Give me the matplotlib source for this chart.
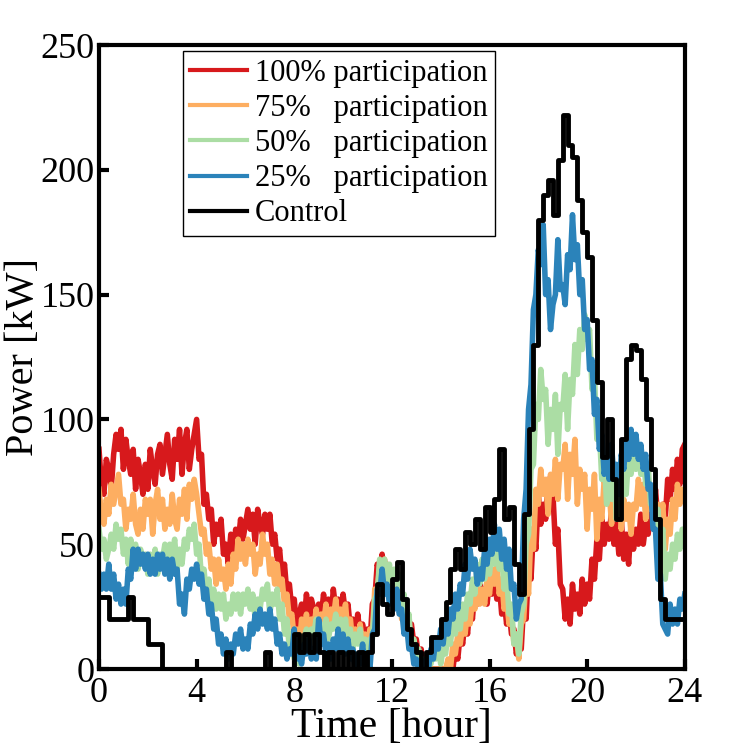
import matplotlib
matplotlib.use("Agg")
import matplotlib.pyplot as plt
import numpy as np

plt.rcParams['font.family'] = ['Liberation Serif', 'DejaVu Serif']

# power in kW, one row per hour, sampled every 0.1 hour (last value = hour 24)
p100 = [88, 74, 70, 84, 80, 72, 86, 94, 88, 96,
        80, 92, 84, 78, 88, 72, 84, 78, 70, 82,
        72, 88, 80, 74, 86, 90, 78, 86, 94, 82,
        76, 92, 84, 96, 78, 90, 96, 80, 88, 94,
        100, 84, 86, 66, 70, 60, 64, 50, 58, 54,
        60, 46, 50, 42, 54, 46, 56, 50, 60, 52,
        58, 64, 56, 62, 50, 64, 58, 54, 62, 56,
        62, 50, 54, 44, 48, 36, 42, 30, 34, 24,
        28, 16, 22, 26, 18, 30, 20, 28, 24, 18,
        26, 20, 30, 22, 28, 18, 32, 24, 28, 22,
        30, 22, 26, 16, 20, 12, 22, 14, 18, 12,
        16, 10, 26, 28, 42, 38, 46, 36, 42, 34,
        38, 30, 36, 26, 30, 20, 24, 14, 18, 10,
        12, 4, 8, 0, 2, 0, 0, 0, 0, 0,
        0, 0, 0, 0, 4, 0, 8, 4, 14, 10,
        20, 14, 26, 20, 32, 26, 36, 28, 32, 26,
        36, 30, 38, 28, 34, 22, 28, 18, 24, 14,
        16, 6, 10, 8, 26, 20, 42, 36, 56, 48,
        70, 58, 66, 60, 76, 64, 70, 50, 56, 34,
        32, 20, 28, 18, 34, 24, 30, 22, 36, 26,
        34, 28, 44, 36, 52, 44, 60, 50, 58, 52,
        64, 50, 58, 46, 60, 44, 54, 42, 58, 48,
        56, 50, 62, 50, 58, 54, 64, 58, 72, 60,
        52, 66, 60, 76, 68, 80, 72, 84, 74, 88,
        90]
p75 = [72, 62, 58, 68, 62, 74, 66, 72, 78, 66,
       68, 56, 64, 60, 70, 58, 54, 64, 56, 68,
       62, 68, 54, 66, 72, 60, 68, 56, 64, 58,
       70, 60, 56, 68, 62, 72, 60, 74, 68, 76,
       70, 62, 54, 56, 46, 50, 40, 44, 34, 44,
       36, 40, 32, 42, 34, 46, 40, 52, 44, 50,
       42, 52, 46, 50, 38, 46, 42, 54, 46, 50,
       38, 44, 34, 42, 32, 36, 26, 30, 20, 22,
       12, 16, 8, 20, 14, 22, 12, 20, 16, 24,
       14, 22, 18, 26, 16, 24, 20, 28, 18, 24,
       20, 26, 14, 20, 10, 16, 12, 18, 10, 14,
       8, 16, 14, 32, 30, 42, 38, 44, 34, 38,
       30, 36, 28, 34, 20, 26, 14, 18, 8, 10,
       4, 6, 0, 2, 0, 0, 0, 0, 0, 0,
       0, 0, 0, 4, 0, 10, 6, 14, 10, 18,
       14, 24, 18, 28, 24, 34, 26, 32, 26, 36,
       30, 40, 34, 42, 30, 36, 24, 28, 18, 22,
       10, 14, 4, 18, 20, 38, 30, 56, 48, 72,
       66, 80, 70, 76, 62, 78, 70, 84, 68, 82,
       80, 90, 68, 86, 78, 92, 66, 80, 72, 78,
       56, 72, 64, 78, 52, 68, 60, 76, 68, 72,
       58, 70, 62, 72, 56, 68, 60, 66, 54, 66,
       64, 76, 66, 74, 60, 72, 64, 70, 56, 66,
       58, 66, 48, 60, 54, 68, 60, 74, 66, 72,
       72]
p50 = [56, 48, 52, 44, 48, 54, 48, 58, 52, 56,
       46, 52, 42, 52, 46, 50, 40, 48, 44, 46,
       38, 46, 42, 48, 38, 46, 44, 50, 40, 50,
       46, 52, 40, 48, 42, 52, 48, 56, 52, 58,
       46, 50, 36, 40, 30, 36, 26, 32, 24, 30,
       24, 30, 20, 26, 22, 30, 24, 30, 22, 30,
       26, 32, 24, 30, 20, 28, 24, 32, 28, 34,
       22, 30, 26, 32, 20, 26, 14, 20, 8, 14,
       4, 8, 2, 10, 12, 16, 8, 16, 14, 20,
       10, 18, 14, 20, 12, 18, 16, 22, 14, 20,
       14, 20, 10, 16, 8, 14, 10, 16, 6, 12,
       4, 12, 12, 28, 30, 44, 38, 44, 36, 42,
       32, 40, 34, 38, 24, 30, 16, 22, 8, 12,
       4, 8, 0, 4, 0, 4, 2, 8, 4, 10,
       2, 8, 6, 14, 10, 20, 14, 22, 16, 26,
       20, 30, 26, 36, 30, 42, 34, 44, 36, 42,
       38, 48, 42, 52, 40, 46, 32, 38, 22, 26,
       10, 14, 6, 22, 26, 50, 54, 80, 82, 106,
       100, 120, 108, 112, 90, 104, 96, 110, 86, 106,
       104, 118, 96, 116, 110, 130, 118, 136, 128, 142,
       132, 136, 112, 118, 92, 96, 76, 84, 66, 78,
       68, 80, 60, 74, 66, 82, 70, 86, 78, 86,
       80, 90, 78, 86, 74, 82, 66, 72, 56, 64,
       50, 56, 36, 46, 40, 50, 44, 54, 48, 56,
       56]
p25 = [38, 32, 38, 32, 42, 32, 38, 28, 34, 26,
       32, 26, 40, 36, 48, 40, 48, 42, 46, 40,
       46, 38, 44, 38, 46, 40, 46, 38, 44, 36,
       44, 38, 40, 26, 30, 22, 36, 32, 40, 36,
       42, 34, 38, 28, 32, 22, 26, 16, 20, 10,
       14, 6, 12, 4, 10, 6, 14, 10, 16, 8,
       12, 8, 18, 14, 22, 16, 24, 18, 22, 16,
       24, 16, 20, 10, 14, 6, 10, 4, 8, 6,
       16, 4, 6, 2, 10, 6, 12, 4, 8, 4,
       20, 10, 14, 6, 10, 4, 12, 8, 16, 8,
       14, 6, 12, 4, 8, 0, 6, 2, 10, 0,
       4, 0, 14, 16, 32, 30, 40, 30, 34, 26,
       30, 24, 32, 22, 24, 14, 18, 8, 10, 2,
       4, 0, 0, 0, 4, 0, 8, 4, 12, 8,
       16, 10, 20, 14, 24, 20, 30, 24, 34, 30,
       42, 36, 48, 40, 44, 34, 40, 36, 48, 42,
       52, 46, 58, 48, 56, 44, 52, 40, 48, 32,
       34, 20, 26, 28, 60, 72, 104, 114, 144, 150,
       168, 162, 178, 150, 156, 136, 146, 150, 172, 152,
       154, 146, 166, 160, 182, 164, 170, 150, 156, 136,
       140, 120, 124, 102, 108, 88, 94, 78, 84, 76,
       90, 76, 82, 70, 86, 80, 92, 84, 96, 86,
       94, 84, 90, 80, 86, 72, 74, 56, 56, 36,
       38, 18, 16, 14, 26, 18, 24, 18, 28, 24,
       30]
# control: stepped, every 0.2 hour
control = [29, 29, 20, 20, 20, 20, 29, 20, 20, 20,
           10, 10, 10, 0, 0, 0, 0, 0, 0, 0,
           0, 0, 0, 0, 0, 0, 7, 0, 0, 0,
           0, 0, 0, 0, 7, 0, 0, 0, 0, 0,
           14, 7, 14, 7, 14, 7, 0, 7, 0, 7,
           0, 7, 0, 7, 0, 7, 14, 34, 26, 22,
           36, 43, 28, 16, 10, 7, 0, 7, 13, 13,
           20, 27, 40, 48, 40, 55, 50, 60, 48, 65,
           55, 68, 88, 60, 65, 42, 30, 62, 96, 130,
           180, 190, 196, 182, 204, 222, 210, 205, 188, 175,
           165, 140, 115, 85, 100, 76, 60, 92, 124, 130,
           128, 116, 100, 80, 60, 28, 20, 20, 20, 20,
           20]

labels = ['100% participation', '75%   participation', '50%   participation',
          '25%   participation', 'Control']
colors = ['#d7191c', '#fdae61', '#abdda4', '#2b83ba', 'black']

fig = plt.figure(figsize=(7.5, 7.5), dpi=100)
ax = fig.add_axes([0.132, 0.108, 0.781, 0.832])

series = [p100, p75, p50, p25]
for vals, lab, col in zip(series, labels[:4], colors[:4]):
    t = np.linspace(0, 24, len(vals))
    ax.plot(t, vals, color=col, lw=4, label=lab)
t = np.linspace(0, 24, len(control))
ax.plot(t, control, color='black', lw=3.5, drawstyle='steps-post', label=labels[4])

ax.set_xlim(0, 24)
ax.set_ylim(0, 250)
ax.set_xticks(np.arange(0, 25, 4))
ax.set_yticks(np.arange(0, 251, 50))
ax.tick_params(direction='in', length=7, width=3, labelsize=26)
ax.tick_params(axis='y', pad=3)
ax.tick_params(axis='x', pad=6)
for s in ax.spines.values():
    s.set_linewidth(3)
ax.set_xlabel('Time [hour]', fontsize=30, labelpad=-2)
ax.set_ylabel('Power [kW]', fontsize=29)
ax.yaxis.set_label_coords(-0.098, 0.5)

leg = ax.legend(loc='upper left', bbox_to_anchor=(0.143, 0.99), borderaxespad=0,
                fontsize=22, handlelength=1.85, handletextpad=0.25, labelspacing=0.2,
                fancybox=False, framealpha=1, edgecolor='black', borderpad=0.25)
leg.get_frame().set_linewidth(1)
for h in leg.get_lines():
    h.set_linewidth(3)

fig.savefig('out.png', dpi=100)
